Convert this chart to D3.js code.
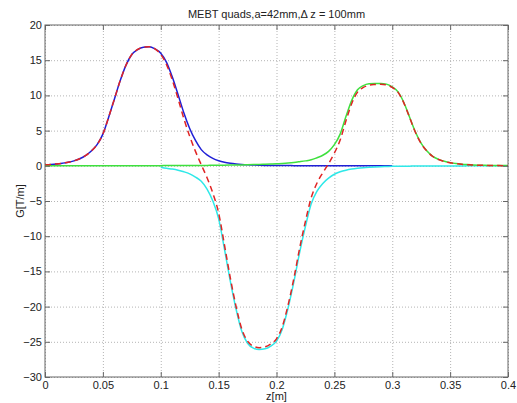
<!DOCTYPE html>
<html>
<head>
<meta charset="utf-8">
<script src="https://cdn.jsdelivr.net/npm/d3@7"></script>
<style>
  body { margin: 0; background: #fff; }
  svg text { font-family: "Liberation Sans", Arial, sans-serif; fill: #222; }
  .grid line { stroke: #b4b4b4; stroke-dasharray: 1,2; }
  .grid path { display: none; }
  .axis path { display: none; }
  .axis line { stroke: #666; }
  .axis text { font-size: 11px; }
</style>
</head>
<body>
<div id="chart"></div>
<script>
// --- Data ---
const zValues = [
  0, 0.005, 0.01, 0.015, 0.02, 0.025, 0.03, 0.035, 0.04, 0.045,
  0.05, 0.055, 0.06, 0.065, 0.07, 0.075, 0.08, 0.085, 0.09, 0.095,
  0.1, 0.105, 0.11, 0.115, 0.12, 0.125, 0.13, 0.135, 0.14, 0.145,
  0.15, 0.155, 0.16, 0.165, 0.17, 0.175, 0.18, 0.185, 0.19, 0.195,
  0.2, 0.205, 0.21, 0.215, 0.22, 0.225, 0.23, 0.235, 0.24, 0.245,
  0.25, 0.255, 0.26, 0.265, 0.27, 0.275, 0.28, 0.285, 0.29, 0.295,
  0.3, 0.305, 0.31, 0.315, 0.32, 0.325, 0.33, 0.335, 0.34, 0.345,
  0.35, 0.355, 0.36, 0.365, 0.37, 0.375, 0.38, 0.385, 0.39, 0.395,
  0.4,
];

// quad 1 (blue), defined 0 .. 0.3
const quad1 = [
  0.15, 0.2, 0.27, 0.37, 0.5, 0.7, 1.0, 1.45, 2.1, 3.0,
  4.5, 6.9, 9.5, 12.1, 14.3, 15.8, 16.5, 16.85, 16.9, 16.6,
  16.0, 14.7, 12.6, 10.1, 7.5, 5.3, 3.6, 2.3, 1.55, 1.05,
  0.72, 0.5, 0.36, 0.26, 0.19, 0.14, 0.11, 0.08, 0.06, 0.05,
  0.04, 0.03, 0.03, 0.02, 0.02, 0.015, 0.015, 0.01, 0.01, 0.01,
  0.01, 0.01, 0.01, 0.01, 0.01, 0.005, 0.005, 0.005, 0.005, 0.005,
  0.005, null, null, null, null, null, null, null, null, null,
  null, null, null, null, null, null, null, null, null, null,
  null,
];

// quad 2 (cyan), defined 0.1 .. 0.4
const quad2 = [
  null, null, null, null, null, null, null, null, null, null,
  null, null, null, null, null, null, null, null, null, null,
  -0.2, -0.35, -0.46, -0.62, -0.85, -1.15, -1.6, -2.2, -3.3, -5.0,
  -7.5, -11.8, -16.3, -20.3, -23.5, -25.2, -25.9, -26.1, -26.0, -25.6,
  -24.9, -23.2, -20.2, -16.5, -12.3, -8.6, -5.4, -3.6, -2.5, -1.75,
  -1.2, -0.85, -0.62, -0.46, -0.35, -0.27, -0.21, -0.16, -0.12, -0.1,
  -0.08, -0.07, -0.06, -0.05, -0.04, -0.04, -0.03, -0.03, -0.03, -0.02,
  -0.02, -0.02, -0.02, -0.01, -0.01, -0.01, -0.01, -0.01, -0.01, -0.01,
  -0.01,
];

// quad 3 (green), defined 0 .. 0.4
const quad3 = [
  0, 0, 0, 0, 0, 0, 0, 0, 0, 0.01,
  0.01, 0.01, 0.01, 0.01, 0.01, 0.01, 0.02, 0.02, 0.02, 0.02,
  0.02, 0.03, 0.03, 0.03, 0.04, 0.04, 0.05, 0.05, 0.06, 0.07,
  0.08, 0.09, 0.1, 0.12, 0.13, 0.15, 0.17, 0.19, 0.22, 0.25,
  0.28, 0.33, 0.39, 0.47, 0.58, 0.7, 0.85, 1.15, 1.5, 2.05,
  3.0, 4.5, 7.0, 9.3, 10.8, 11.4, 11.65, 11.7, 11.7, 11.6,
  11.2, 10.5, 9.0, 6.9, 4.8, 3.2, 2.1, 1.35, 0.92, 0.64,
  0.45, 0.32, 0.23, 0.17, 0.12, 0.09, 0.07, 0.05, 0.04, 0.03,
  0.03,
];

const xTicks = [0, 0.05, 0.1, 0.15, 0.2, 0.25, 0.3, 0.35, 0.4];
const yTicks = [-30, -25, -20, -15, -10, -5, 0, 5, 10, 15, 20];

const titleText = "MEBT quads,a=42mm,\u0394 z = 100mm";
const xLabel = "z[m]";
const yLabel = "G[T/m]";

// --- Layout ---
const width = 517;
const height = 403;
const margin = { top: 25, right: 9, bottom: 26, left: 45 };
const innerW = width - margin.left - margin.right;
const innerH = height - margin.top - margin.bottom;

const svg = d3
  .select("#chart")
  .append("svg")
  .attr("width", width)
  .attr("height", height);

const x = d3.scaleLinear().domain([0, 0.4]).range([margin.left, margin.left + innerW]);
const y = d3.scaleLinear().domain([-30, 20]).range([margin.top + innerH, margin.top]);

// grid
svg
  .append("g")
  .attr("class", "grid")
  .attr("transform", `translate(0,${margin.top + innerH})`)
  .call(d3.axisBottom(x).tickValues(xTicks).tickSize(-innerH).tickFormat(""));
svg
  .append("g")
  .attr("class", "grid")
  .attr("transform", `translate(${margin.left},0)`)
  .call(d3.axisLeft(y).tickValues(yTicks).tickSize(-innerW).tickFormat(""));

// --- Curves ---
const series = [
  { name: "quad1", values: quad1, color: "#1f1fd6", dash: null },
  { name: "quad2", values: quad2, color: "#2ee8e8", dash: null },
  { name: "quad3", values: quad3, color: "#3ee03e", dash: null },
];

const total = zValues.map((z, i) => (quad1[i] || 0) + (quad2[i] || 0) + (quad3[i] || 0));

const line = d3
  .line()
  .defined((d) => d[1] !== null)
  .x((d) => x(d[0]))
  .y((d) => y(d[1]))
  .curve(d3.curveMonotoneX);

const plot = svg.append("g");

series.forEach((s) => {
  plot
    .append("path")
    .datum(zValues.map((z, i) => [z, s.values[i]]))
    .attr("fill", "none")
    .attr("stroke", s.color)
    .attr("stroke-width", 1.5)
    .attr("d", line);
});

plot
  .append("path")
  .datum(zValues.map((z, i) => [z, total[i]]))
  .attr("fill", "none")
  .attr("stroke", "#e02424")
  .attr("stroke-width", 1.5)
  .attr("stroke-dasharray", "6,4")
  .attr("d", line);

// --- Axes (ticks point inward, like matlab) ---
svg
  .append("g")
  .attr("class", "axis")
  .attr("transform", `translate(0,${margin.top + innerH})`)
  .call(d3.axisBottom(x).tickValues(xTicks).tickSize(-5).tickPadding(4).tickFormat(d3.format("")));
svg
  .append("g")
  .attr("class", "axis")
  .attr("transform", `translate(0,${margin.top})`)
  .call(d3.axisTop(x).tickValues(xTicks).tickSize(-5).tickFormat(""));
svg
  .append("g")
  .attr("class", "axis")
  .attr("transform", `translate(${margin.left},0)`)
  .call(d3.axisLeft(y).tickValues(yTicks).tickSize(-5).tickPadding(3).tickFormat(d3.format("")));
svg
  .append("g")
  .attr("class", "axis")
  .attr("transform", `translate(${margin.left + innerW},0)`)
  .call(d3.axisRight(y).tickValues(yTicks).tickSize(-5).tickFormat(""));

// box
svg
  .append("rect")
  .attr("x", margin.left)
  .attr("y", margin.top)
  .attr("width", innerW)
  .attr("height", innerH)
  .attr("fill", "none")
  .attr("stroke", "#666");

// --- Labels ---
svg
  .append("text")
  .attr("x", margin.left + innerW / 2)
  .attr("y", 18)
  .attr("text-anchor", "middle")
  .style("font-size", "11px")
  .text(titleText);

svg
  .append("text")
  .attr("x", margin.left + innerW / 2)
  .attr("y", 400)
  .attr("text-anchor", "middle")
  .style("font-size", "11px")
  .text(xLabel);

svg
  .append("text")
  .attr("transform", `translate(24,${margin.top + innerH / 2}) rotate(-90)`)
  .attr("text-anchor", "middle")
  .style("font-size", "11px")
  .text(yLabel);
</script>
</body>
</html>
